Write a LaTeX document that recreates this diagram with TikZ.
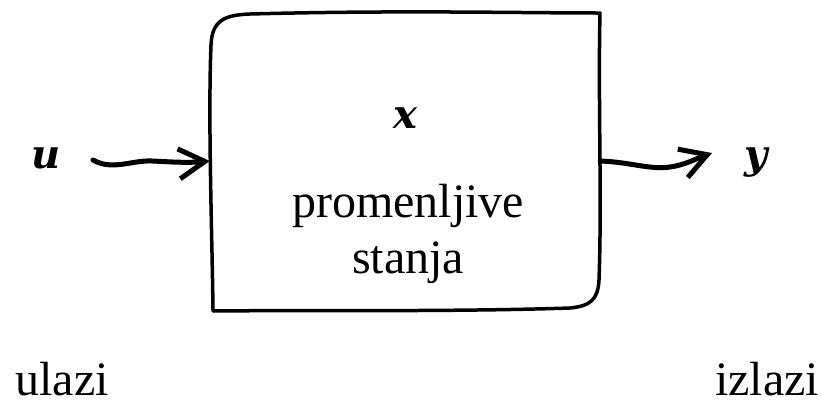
\documentclass[tikz,border=0pt]{standalone}
\usepackage{fontspec}
\setmainfont{Liberation Serif}
\newfontfamily\mathletters{DejaVu Serif}
\usetikzlibrary{arrows.meta}
\tikzset{
  sketch/.style = {line width=3.5pt, line cap=round, line join=round},
  wire/.style   = {line width=5pt, line cap=round,
                   -{Straight Barb[length=26pt,width=30pt]}},
  lbl/.style    = {font=\fontsize{48}{56}\selectfont, inner sep=0pt, anchor=base},
  var/.style    = {lbl, font=\fontsize{40}{48}\mathletters\bfseries\itshape},
}

\begin{document}
\begin{tikzpicture}[x=1pt,y=-1pt]
  \useasboundingbox (0,0) rectangle (823,405);

  % labels
  \node[var] (u) at (46,168) {u};
  \node[var] (y) at (756,168) {y};
  \node[var] (x) at (405,128) {x};
  \node[lbl] (st1) at (408,217) {promenljive};
  \node[lbl] (st2) at (408,273) {stanja};
  \node[lbl] (in)  at (62,395) {ulazi};
  \node[lbl] (out) at (767,395) {izlazi};

  % system block
  \node[minimum width=390pt, minimum height=298pt, inner sep=0pt] (sys) at (405,161) {};
  \draw[sketch] (213,310) .. controls (212,230) and (208,120) .. (211,45)
    .. controls (212,20) and (225,15) .. (250,14)
    .. controls (400,10) and (520,13) .. (600,13)
    .. controls (598,100) and (602,200) .. (599,280)
    .. controls (598,300) and (590,306) .. (570,308)
    .. controls (450,312) and (300,310) .. (213,311);

  \coordinate (ustart) at (93,160);
  \coordinate (yend) at (712,153);

  \draw[wire] (ustart) .. controls (112,171) and (132,160) .. (152,161)
    .. controls (172,162) and (188,163) .. (sys.west);
  \draw[wire] (sys.east) .. controls (630,162) and (650,170) .. (670,167)
    .. controls (685,165) and (695,159) .. (yend);
\end{tikzpicture}
\end{document}
